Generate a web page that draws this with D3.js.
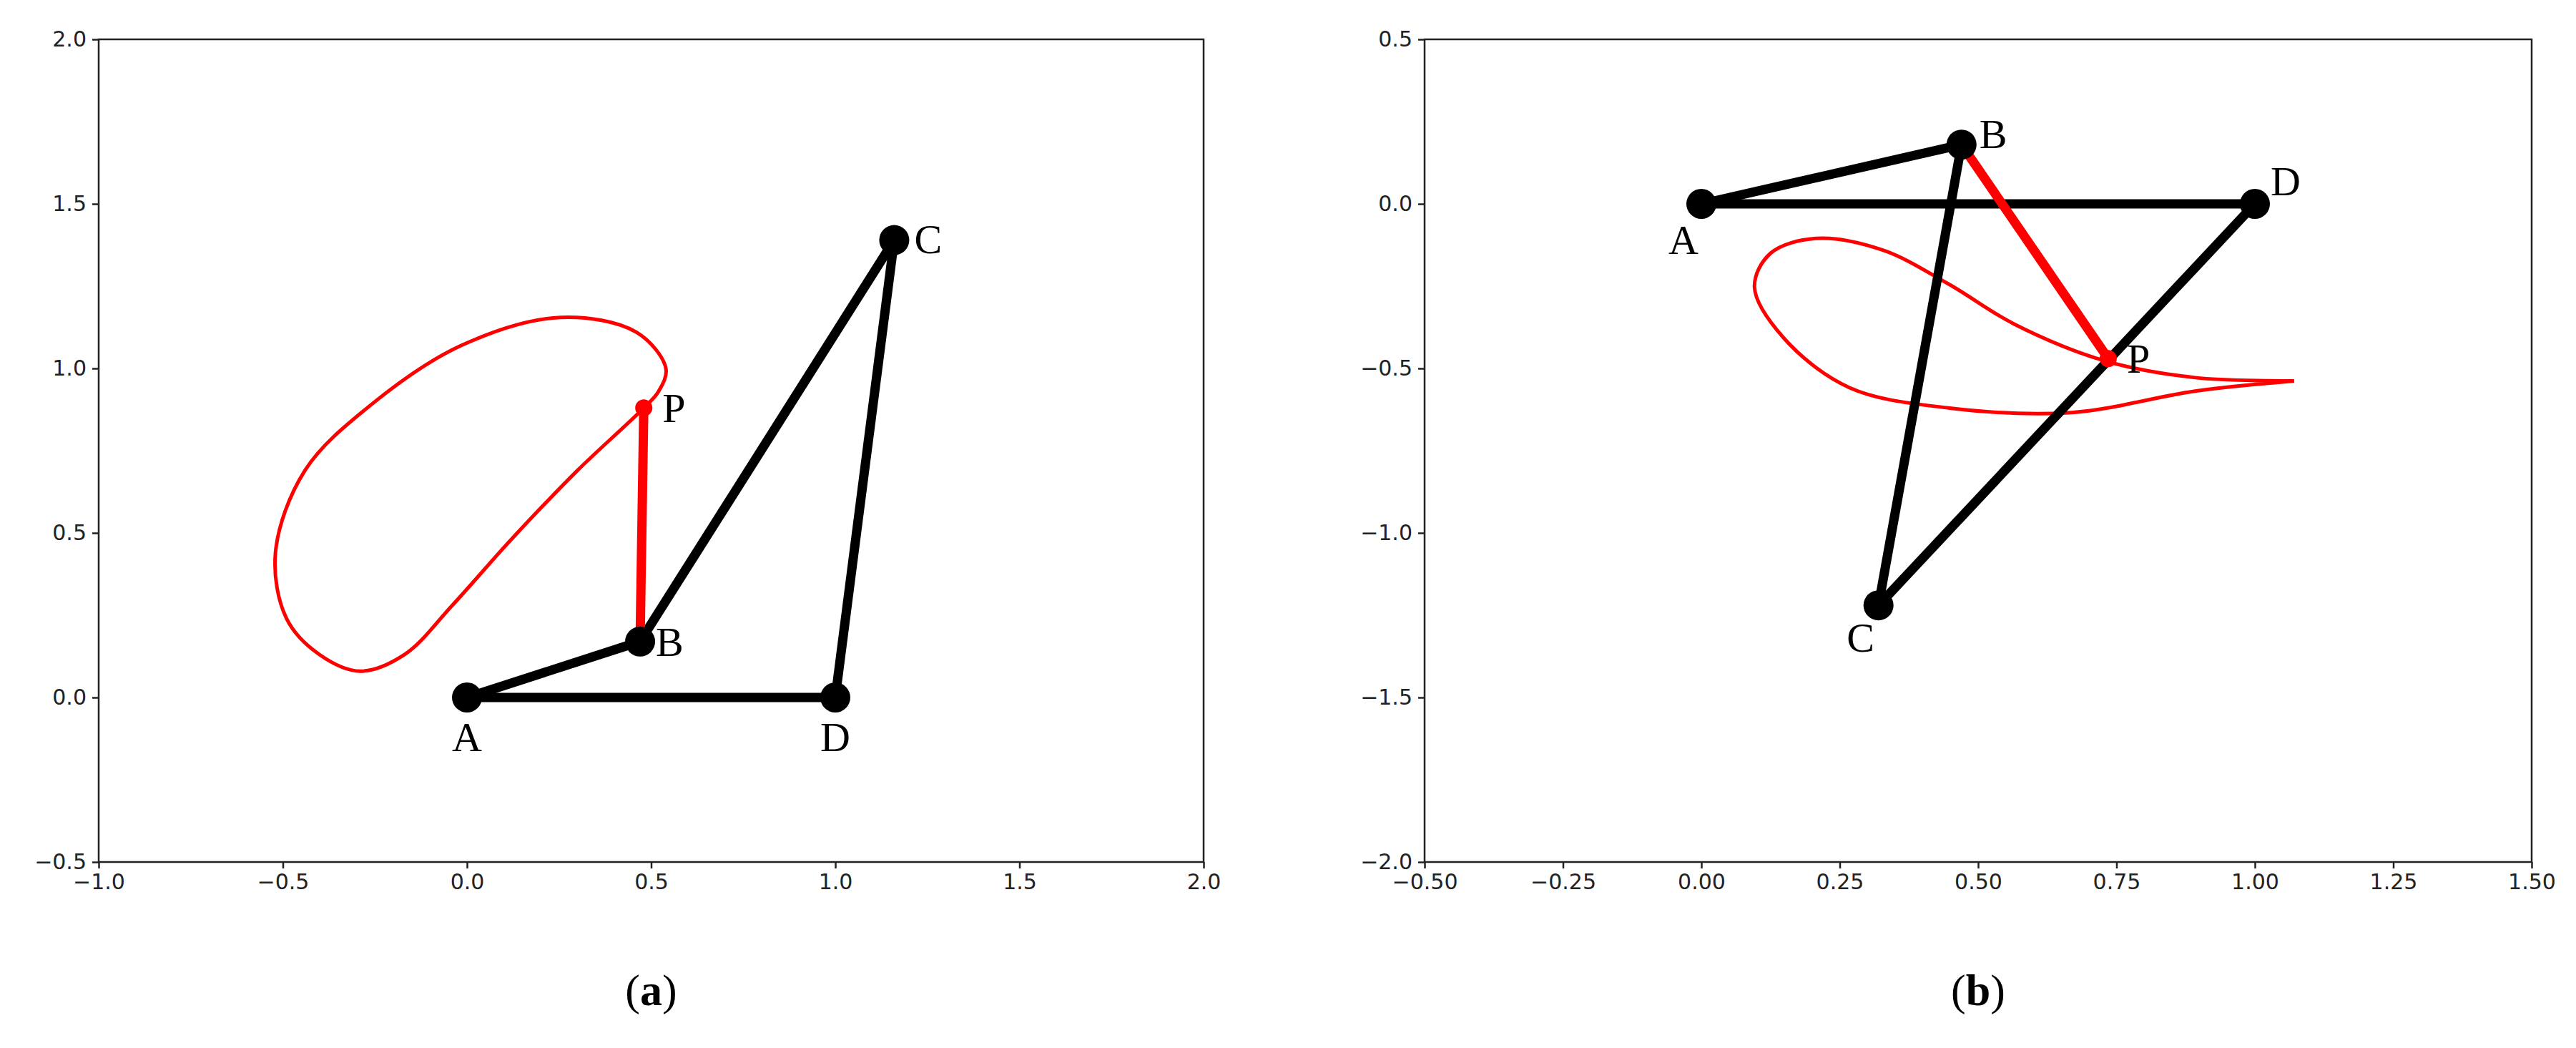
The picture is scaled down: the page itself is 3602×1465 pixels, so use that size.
<!DOCTYPE html>
<html>
<head>
<meta charset="utf-8">
<script src="https://cdn.jsdelivr.net/npm/d3@7"></script>
<style>
  body { margin: 0; background: #fff; }
  .tick text { font-family: "DejaVu Sans", sans-serif; font-size: 30px; fill: #222; }
</style>
</head>
<body>
<svg id="chart" width="3602" height="1465"></svg>
<script>
// panel (a)
const xTicksA = [-1.0, -0.5, 0.0, 0.5, 1.0, 1.5, 2.0];
const yTicksA = [-0.5, 0.0, 0.5, 1.0, 1.5, 2.0];
const jointsA = [
  {name: "A", x: 0.0, y: 0.0, dx: 0, dy: 75, anchor: "middle"},
  {name: "B", x: 0.47, y: 0.17, dx: 22, dy: 20, anchor: "start"},
  {name: "C", x: 1.16, y: 1.39, dx: 28, dy: 18, anchor: "start"},
  {name: "D", x: 1.0, y: 0.0, dx: 0, dy: 75, anchor: "middle"}
];
const pointA = {name: "P", x: 0.48, y: 0.88};
const linksA = [["A", "B"], ["A", "D"], ["B", "C"], ["C", "D"]];
const curveA = [
  [0.48, 0.88], [0.52, 0.93], [0.54, 1.0], [0.46, 1.11], [0.254, 1.155], [-0.015, 1.07],
  [-0.26, 0.89], [-0.44, 0.69], [-0.52, 0.44], [-0.49, 0.24], [-0.40, 0.13],
  [-0.29, 0.08], [-0.17, 0.13], [-0.04, 0.28], [0.12, 0.48], [0.30, 0.69]
];

// panel (b)
const xTicksB = [-0.5, -0.25, 0.0, 0.25, 0.5, 0.75, 1.0, 1.25, 1.5];
const yTicksB = [-2.0, -1.5, -1.0, -0.5, 0.0, 0.5];
const jointsB = [
  {name: "A", x: 0.0, y: 0.0, dx: -25, dy: 70, anchor: "middle"},
  {name: "B", x: 0.47, y: 0.18, dx: 25, dy: 5, anchor: "start"},
  {name: "C", x: 0.32, y: -1.22, dx: -25, dy: 65, anchor: "middle"},
  {name: "D", x: 1.0, y: 0.0, dx: 22, dy: -12, anchor: "start"}
];
const pointB = {name: "P", x: 0.735, y: -0.47};
const linksB = [["A", "B"], ["A", "D"], ["B", "C"], ["C", "D"]];
const curveB = [
  [1.071, -0.538], [0.892, -0.528], [0.729, -0.477], [0.565, -0.365], [0.446, -0.243],
  [0.327, -0.14], [0.207, -0.105], [0.125, -0.15], [0.096, -0.253], [0.148, -0.406],
  [0.267, -0.558], [0.446, -0.62], [0.669, -0.634], [0.892, -0.569], [1.071, -0.538]
];

const svg = d3.select("#chart");

function panel(opt) {
  const g = svg.append("g");
  const x = d3.scaleLinear().domain(opt.xd).range([opt.left, opt.right]);
  const y = d3.scaleLinear().domain(opt.yd).range([opt.bottom, opt.top]);

  const xAxis = g.append("g").attr("transform", `translate(0,${opt.bottom})`)
    .call(d3.axisBottom(x).tickValues(opt.xt).tickSize(9).tickPadding(8)
      .tickFormat(d => d3.format(opt.xf)(d).replace("-", "\u2212")));
  const yAxis = g.append("g").attr("transform", `translate(${opt.left},0)`)
    .call(d3.axisLeft(y).tickValues(opt.yt).tickSize(9).tickPadding(8)
      .tickFormat(d => d3.format(".1f")(d).replace("-", "\u2212")));
  [xAxis, yAxis].forEach(a => {
    a.select(".domain").remove();
    a.selectAll("line").attr("stroke", "#222").attr("stroke-width", 2.5);
  });

  g.append("rect").attr("x", opt.left).attr("y", opt.top)
    .attr("width", opt.right - opt.left).attr("height", opt.bottom - opt.top)
    .attr("fill", "none").attr("stroke", "#222").attr("stroke-width", 2.5);

  const line = d3.line().x(d => x(d[0])).y(d => y(d[1]))
    .curve(opt.closed ? d3.curveCatmullRomClosed : d3.curveCatmullRom);
  g.append("path").attr("d", line(opt.curve))
    .attr("fill", "none").attr("stroke", "#ff0000").attr("stroke-width", 5);

  const byName = {};
  opt.joints.forEach(j => byName[j.name] = j);
  g.selectAll(".link").data(opt.links).enter().append("line")
    .attr("x1", d => x(byName[d[0]].x)).attr("y1", d => y(byName[d[0]].y))
    .attr("x2", d => x(byName[d[1]].x)).attr("y2", d => y(byName[d[1]].y))
    .attr("stroke", "#000").attr("stroke-width", 13);

  const b = byName.B, p = opt.p;
  g.append("line")
    .attr("x1", x(b.x)).attr("y1", y(b.y)).attr("x2", x(p.x)).attr("y2", y(p.y))
    .attr("stroke", "#ff0000").attr("stroke-width", 13);
  g.append("circle").attr("cx", x(p.x)).attr("cy", y(p.y)).attr("r", 12).attr("fill", "#ff0000");

  g.selectAll(".joint").data(opt.joints).enter().append("circle")
    .attr("cx", d => x(d.x)).attr("cy", d => y(d.y)).attr("r", 21).attr("fill", "#000");

  const labels = opt.joints.concat([Object.assign({dx: 26, dy: 20, anchor: "start"}, p)]);
  g.selectAll(".lab").data(labels).enter().append("text")
    .attr("x", d => x(d.x) + d.dx).attr("y", d => y(d.y) + d.dy)
    .attr("text-anchor", d => d.anchor)
    .attr("font-family", "Liberation Serif, serif").attr("font-size", 58)
    .text(d => d.name);

  const cap = svg.append("text").attr("x", (opt.left + opt.right) / 2).attr("y", 1405)
    .attr("text-anchor", "middle").attr("font-family", "Liberation Serif, serif")
    .attr("font-size", 62);
  cap.append("tspan").text("(");
  cap.append("tspan").attr("font-weight", "bold").text(opt.caption);
  cap.append("tspan").text(")");
}

panel({xd: [-1, 2], yd: [-0.5, 2], left: 138, right: 1683, top: 55, bottom: 1205,
  xt: xTicksA, yt: yTicksA, xf: ".1f", joints: jointsA, p: pointA, links: linksA,
  curve: curveA, closed: true, caption: "a"});
panel({xd: [-0.5, 1.5], yd: [-2, 0.5], left: 1992, right: 3540, top: 55, bottom: 1205,
  xt: xTicksB, yt: yTicksB, xf: ".2f", joints: jointsB, p: pointB, links: linksB,
  curve: curveB, closed: false, caption: "b"});
</script>
</body>
</html>
